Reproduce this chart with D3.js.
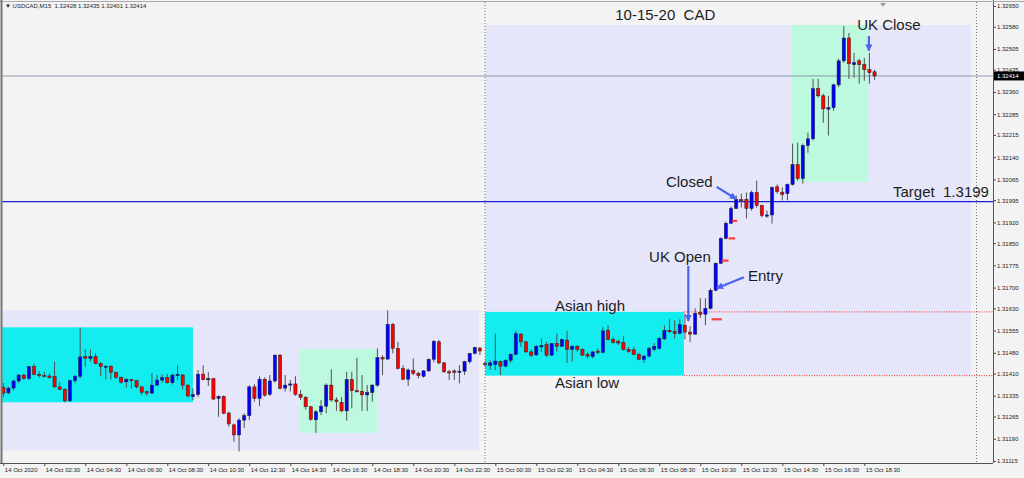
<!DOCTYPE html>
<html>
<head>
<meta charset="utf-8">
<script src="https://cdn.jsdelivr.net/npm/d3@7"></script>
<style>
  html, body { margin: 0; padding: 0; background: #f3f3f3; }
  #chart { width: 1024px; height: 478px; }
  text { font-family: "Liberation Sans", Arial, sans-serif; }
</style>
</head>
<body>
<div id="chart"></div>
<script>
// USDCAD M15, 14 Oct 00:30 .. 15 Oct 19:00
const opens = [1.31364,1.31345,1.31361,1.31385,1.31405,1.31393,1.31433,1.31407,1.31404,1.31402,
1.31400,1.31365,1.31357,1.31318,1.31386,1.31401,1.31467,1.31461,1.31467,1.31444,
1.31433,1.31435,1.31413,1.31397,1.31382,1.31390,1.31386,1.31365,1.31349,1.31344,
1.31371,1.31388,1.31397,1.31379,1.31405,1.31405,1.31371,1.31332,1.31339,1.31408,
1.31390,1.31393,1.31326,1.31332,1.31277,1.31237,1.31203,1.31253,1.31268,1.31365,
1.31326,1.31391,1.31340,1.31385,1.31472,1.31361,1.31371,1.31375,1.31340,1.31330,
1.31298,1.31254,1.31281,1.31300,1.31371,1.31321,1.31313,1.31284,1.31390,1.31352,
1.31350,1.31338,1.31346,1.31371,1.31464,1.31459,1.31576,1.31495,1.31427,1.31391,
1.31420,1.31411,1.31401,1.31419,1.31458,1.31517,1.31446,1.31416,1.31419,1.31414,
1.31418,1.31450,1.31478,1.31496,1.31444,1.31438,1.31441,1.31451,1.31435,1.31455,
1.31475,1.31543,1.31517,1.31483,1.31473,1.31502,1.31508,1.31472,1.31512,1.31502,
1.31523,1.31492,1.31502,1.31491,1.31475,1.31467,1.31486,1.31481,1.31556,1.31525,
1.31518,1.31515,1.31492,1.31490,1.31475,1.31457,1.31469,1.31492,1.31495,1.31527,
1.31556,1.31553,1.31546,1.31573,1.31550,1.31543,1.31616,1.31610,1.31630,1.31691,
1.31782,1.31866,1.31917,1.31967,1.31997,1.31998,1.31967,1.32021,1.31977,1.31941,
1.31945,1.32040,1.32022,1.32017,1.32048,1.32115,1.32068,1.32179,1.32202,1.32371,
1.32347,1.32302,1.32307,1.32384,1.32465,1.32542,1.32452,1.32465,1.32452,1.32435,
1.32428];
const highs = [1.31378,1.31365,1.31389,1.31408,1.31409,1.31436,1.31444,1.31418,1.31416,1.31410,
1.31450,1.31382,1.31360,1.31390,1.31405,1.31565,1.31492,1.31491,1.31478,1.31449,
1.31438,1.31438,1.31417,1.31400,1.31394,1.31391,1.31389,1.31368,1.31352,1.31412,
1.31405,1.31408,1.31408,1.31409,1.31438,1.31409,1.31374,1.31360,1.31422,1.31438,
1.31416,1.31395,1.31336,1.31336,1.31281,1.31241,1.31259,1.31276,1.31371,1.31374,
1.31401,1.31397,1.31405,1.31475,1.31476,1.31405,1.31388,1.31401,1.31354,1.31334,
1.31301,1.31287,1.31321,1.31377,1.31424,1.31330,1.31330,1.31416,1.31416,1.31463,
1.31405,1.31371,1.31374,1.31495,1.31472,1.31623,1.31581,1.31517,1.31438,1.31427,
1.31461,1.31416,1.31422,1.31461,1.31523,1.31523,1.31449,1.31422,1.31424,1.31438,
1.31453,1.31480,1.31500,1.31500,1.31452,1.31455,1.31545,1.31453,1.31458,1.31478,
1.31554,1.31547,1.31520,1.31491,1.31506,1.31528,1.31517,1.31513,1.31545,1.31528,
1.31554,1.31506,1.31506,1.31495,1.31483,1.31486,1.31495,1.31567,1.31573,1.31534,
1.31525,1.31536,1.31500,1.31500,1.31480,1.31472,1.31500,1.31513,1.31534,1.31573,
1.31593,1.31590,1.31593,1.31612,1.31570,1.31630,1.31664,1.31664,1.31697,1.31785,
1.31869,1.31923,1.31974,1.32011,1.32017,1.32021,1.32027,1.32061,1.31980,1.31960,
1.32041,1.32048,1.32038,1.32051,1.32186,1.32189,1.32186,1.32223,1.32404,1.32404,
1.32354,1.32347,1.32388,1.32472,1.32583,1.32559,1.32492,1.32472,1.32475,1.32492,
1.32435];
const lows = [1.31331,1.31340,1.31352,1.31378,1.31389,1.31389,1.31404,1.31396,1.31397,1.31392,
1.31362,1.31354,1.31313,1.31315,1.31377,1.31394,1.31433,1.31450,1.31441,1.31401,
1.31390,1.31390,1.31392,1.31376,1.31363,1.31360,1.31360,1.31337,1.31335,1.31342,
1.31368,1.31379,1.31376,1.31373,1.31388,1.31357,1.31331,1.31320,1.31330,1.31387,
1.31368,1.31320,1.31264,1.31273,1.31231,1.31180,1.31147,1.31226,1.31253,1.31315,
1.31300,1.31332,1.31335,1.31379,1.31357,1.31349,1.31349,1.31335,1.31321,1.31289,
1.31251,1.31210,1.31270,1.31276,1.31315,1.31284,1.31280,1.31251,1.31293,1.31348,
1.31284,1.31284,1.31315,1.31365,1.31405,1.31455,1.31478,1.31424,1.31387,1.31368,
1.31405,1.31394,1.31396,1.31416,1.31448,1.31441,1.31412,1.31388,1.31388,1.31377,
1.31405,1.31444,1.31475,1.31472,1.31432,1.31422,1.31422,1.31405,1.31431,1.31446,
1.31472,1.31500,1.31480,1.31466,1.31470,1.31483,1.31466,1.31469,1.31483,1.31500,
1.31446,1.31450,1.31483,1.31469,1.31461,1.31461,1.31475,1.31480,1.31522,1.31511,
1.31506,1.31488,1.31480,1.31472,1.31455,1.31446,1.31464,1.31486,1.31491,1.31523,
1.31547,1.31528,1.31542,1.31525,1.31516,1.31541,1.31597,1.31573,1.31626,1.31688,
1.31780,1.31863,1.31914,1.31965,1.31970,1.31933,1.31960,1.31970,1.31937,1.31936,
1.31916,1.32017,1.31994,1.31994,1.32044,1.32061,1.32051,1.32155,1.32196,1.32341,
1.32256,1.32213,1.32297,1.32377,1.32458,1.32404,1.32408,1.32388,1.32398,1.32388,
1.32401];
const closes = [1.31344,1.31361,1.31385,1.31405,1.31393,1.31433,1.31407,1.31404,1.31402,1.31397,
1.31365,1.31357,1.31318,1.31386,1.31401,1.31466,1.31462,1.31467,1.31444,1.31433,
1.31435,1.31414,1.31397,1.31381,1.31390,1.31386,1.31365,1.31347,1.31344,1.31371,
1.31388,1.31396,1.31379,1.31405,1.31407,1.31371,1.31334,1.31339,1.31408,1.31390,
1.31393,1.31324,1.31333,1.31276,1.31240,1.31203,1.31253,1.31268,1.31365,1.31326,
1.31391,1.31337,1.31385,1.31472,1.31360,1.31371,1.31375,1.31340,1.31330,1.31298,
1.31256,1.31281,1.31300,1.31371,1.31321,1.31315,1.31284,1.31390,1.31352,1.31350,
1.31338,1.31346,1.31371,1.31464,1.31459,1.31576,1.31495,1.31427,1.31391,1.31422,
1.31411,1.31403,1.31419,1.31458,1.31519,1.31446,1.31416,1.31415,1.31414,1.31418,
1.31450,1.31478,1.31498,1.31486,1.31440,1.31446,1.31452,1.31435,1.31455,1.31475,
1.31545,1.31517,1.31483,1.31472,1.31502,1.31504,1.31472,1.31511,1.31502,1.31525,
1.31491,1.31502,1.31491,1.31472,1.31469,1.31483,1.31481,1.31554,1.31525,1.31515,
1.31513,1.31491,1.31485,1.31475,1.31458,1.31469,1.31495,1.31502,1.31528,1.31556,
1.31551,1.31545,1.31575,1.31550,1.31543,1.31613,1.31610,1.31630,1.31691,1.31782,
1.31866,1.31917,1.31967,1.31997,1.31995,1.31967,1.32021,1.31977,1.31943,1.31945,
1.32038,1.32024,1.32014,1.32048,1.32115,1.32068,1.32179,1.32202,1.32371,1.32347,
1.32303,1.32307,1.32384,1.32465,1.32542,1.32455,1.32459,1.32452,1.32435,1.32425,
1.32414];

const yTicks = [1.32650,1.32580,1.32505,1.32435,1.32360,1.32285,1.32215,1.32140,1.32065,1.31995,
1.31920,1.31850,1.31775,1.31700,1.31630,1.31555,1.31480,1.31410,1.31335,1.31265,1.31190,1.31115];
const xTickIdx = [0,8,16,24,32,40,48,56,64,72,80,88,96,104,112,120,128,136,144,152,160,168];
const xTickLabels = ['14 Oct 2020','14 Oct 02:30','14 Oct 04:30','14 Oct 06:30','14 Oct 08:30','14 Oct 10:30',
'14 Oct 12:30','14 Oct 14:30','14 Oct 16:30','14 Oct 18:30','14 Oct 20:30','14 Oct 22:30',
'15 Oct 00:30','15 Oct 02:30','15 Oct 04:30','15 Oct 06:30','15 Oct 08:30','15 Oct 10:30',
'15 Oct 12:30','15 Oct 14:30','15 Oct 16:30','15 Oct 18:30'];

// boxes: [startBar, endBar, topPrice, bottomPrice, colour]
const boxStart = [-1, -1, 57.9, 94.0, 94.0, 153.8];
const boxEnd   = [92.8, 37.0, 72.9, 188.8, 132.8, 168.8];
const boxTop   = [1.31624, 1.31566, 1.31493, 1.32586, 1.31618, 1.32586];
const boxBot   = [1.31150, 1.31313, 1.31210, 1.31405, 1.31403, 1.32056];
const boxFill  = ['#e6e6fa', '#13edf0', '#bcf9df', '#e6e6fa', '#13edf0', '#bcf9df'];

const target = 1.3199;
const asianHigh = 1.31618, asianLow = 1.31403, asianEnd = 132.8;
const daySepBars = [94, 189.9];

const dashStart = [142.2, 141.5, 140.2, 138.2];
const dashEnd   = [143.2, 142.8, 141.5, 140.2];
const dashPrice = [1.31925, 1.31866, 1.31791, 1.31593];

const noteText  = ['10-15-20  CAD','UK Close','Closed','Target  1.3199','UK Open','Entry','Asian high','Asian low'];
const noteBar   = [119.4, 166.6, 129.3, 173.6, 126.0, 145.3, 107.65, 107.65];
const notePrice = [1.32620, 1.32586, 1.32056, 1.32024, 1.31803, 1.31742, 1.31638, 1.31378];

// arrows: from (bar, price) to (bar, price)
const arrowFromBar   = [168.9, 139.2, 133.66, 144.5];
const arrowFromPrice = [1.32549, 1.32040, 1.31773, 1.31735];
const arrowToBar     = [168.9, 143.0, 133.66, 139.2];
const arrowToPrice   = [1.32499, 1.31999, 1.31587, 1.31698];

const W = 1024, H = 478;
const axisX = 993, axisY = 463;

const svg = d3.select('#chart').append('svg')
  .attr('width', W).attr('height', H);

svg.append('rect').attr('width', W).attr('height', H).attr('fill', '#f3f3f3');

const x = d3.scaleLinear().domain([0, 190]).range([3.3, 977.05]);
const y = d3.scaleLinear().domain([1.31115, 1.32650]).range([461, 6]);

svg.append('clipPath').attr('id', 'plot')
  .append('rect').attr('x', 2).attr('y', 2).attr('width', axisX - 2).attr('height', axisY - 2);

const g = svg.append('g').attr('clip-path', 'url(#plot)');

// boxes
boxStart.forEach((s, i) => {
  g.append('rect')
    .attr('x', x(s)).attr('y', y(boxTop[i]))
    .attr('width', x(boxEnd[i]) - x(s))
    .attr('height', y(boxBot[i]) - y(boxTop[i]))
    .attr('fill', boxFill[i]);
});

// separators
daySepBars.forEach(b => {
  g.append('line')
    .attr('x1', x(b)).attr('x2', x(b)).attr('y1', 2).attr('y2', axisY)
    .attr('stroke', '#777').attr('stroke-width', 1).attr('stroke-dasharray', '1,2');
});

// asian range lines
[asianHigh, asianLow].forEach(p => {
  g.append('line')
    .attr('x1', x(asianEnd)).attr('x2', axisX).attr('y1', y(p)).attr('y2', y(p))
    .attr('stroke', '#ff2020').attr('stroke-width', 1).attr('stroke-dasharray', '1,1.5');
});

// current price line
const last = closes[closes.length - 1];
g.append('line')
  .attr('x1', 2).attr('x2', axisX).attr('y1', y(last)).attr('y2', y(last))
  .attr('stroke', '#8d9bab').attr('stroke-width', 1);

// target line
g.append('line')
  .attr('x1', 2).attr('x2', axisX).attr('y1', y(target)).attr('y2', y(target))
  .attr('stroke', '#1d1dd8').attr('stroke-width', 1.4);

// candles
const bw = 3.2;
opens.forEach((o, i) => {
  const c = closes[i];
  const cx = x(i);
  g.append('line')
    .attr('x1', cx).attr('x2', cx)
    .attr('y1', y(highs[i])).attr('y2', y(lows[i]))
    .attr('stroke', '#505050').attr('stroke-width', 1);
  const top = y(Math.max(o, c)), bot = y(Math.min(o, c));
  g.append('rect')
    .attr('x', cx - bw / 2).attr('y', top)
    .attr('width', bw).attr('height', Math.max(bot - top, 1.2))
    .attr('fill', c >= o ? '#0000ff' : '#ff0000')
    .attr('stroke', '#222').attr('stroke-width', 0.5);
});

// red stop dashes
dashStart.forEach((s, i) => {
  g.append('line')
    .attr('x1', x(s)).attr('x2', x(dashEnd[i]))
    .attr('y1', y(dashPrice[i])).attr('y2', y(dashPrice[i]))
    .attr('stroke', '#ff3b3b').attr('stroke-width', 2.2);
});

// arrows
const arrowCol = '#4a62f0';
svg.append('defs').append('marker')
  .attr('id', 'head').attr('viewBox', '0 0 10 10')
  .attr('refX', 9).attr('refY', 5)
  .attr('markerWidth', 3.2).attr('markerHeight', 3.2)
  .attr('orient', 'auto')
  .append('path').attr('d', 'M0,0L10,5L0,10Z').attr('fill', arrowCol);

arrowFromBar.forEach((b, i) => {
  svg.append('line')
    .attr('x1', x(b)).attr('y1', y(arrowFromPrice[i]))
    .attr('x2', x(arrowToBar[i])).attr('y2', y(arrowToPrice[i]))
    .attr('stroke', arrowCol).attr('stroke-width', 2.2)
    .attr('marker-end', 'url(#head)');
});

// notes
noteText.forEach((t, i) => {
  svg.append('text')
    .attr('x', x(noteBar[i])).attr('y', y(notePrice[i]))
    .attr('dy', '0.36em')
    .style('white-space', 'pre')
    .attr('font-size', 15).attr('fill', '#1c1c1c')
    .text(t);
});

// axes
const yAxis = d3.axisRight(y).tickValues(yTicks).tickSize(3).tickSizeOuter(0)
  .tickFormat(d3.format('.5f'));
const ya = svg.append('g').attr('transform', `translate(${axisX},0)`).call(yAxis);
ya.select('.domain').remove();
ya.selectAll('line').attr('stroke', '#444');
ya.selectAll('text').attr('font-size', 6).attr('fill', '#222').attr('x', 4)
  .attr('font-family', '"Liberation Sans", Arial, sans-serif');

const xAxis = d3.axisBottom(x).tickValues(xTickIdx).tickSize(3).tickSizeOuter(0)
  .tickFormat((d, i) => xTickLabels[i]);
const xa = svg.append('g').attr('transform', `translate(0,${axisY})`).call(xAxis);
xa.select('.domain').remove();
xa.selectAll('line').attr('stroke', '#444');
xa.selectAll('text').attr('font-size', 6).attr('fill', '#222')
  .attr('text-anchor', 'start').attr('x', 1).attr('y', 5)
  .attr('font-family', '"Liberation Sans", Arial, sans-serif');

svg.append('line').attr('x1', axisX + 0.5).attr('x2', axisX + 0.5).attr('y1', 0).attr('y2', axisY)
  .attr('stroke', '#555');
svg.append('line').attr('x1', 0).attr('x2', axisX).attr('y1', axisY + 0.5).attr('y2', axisY + 0.5)
  .attr('stroke', '#555');

// frame
svg.append('line').attr('x1', 0).attr('x2', W).attr('y1', 1.5).attr('y2', 1.5).attr('stroke', '#aaa');
svg.append('line').attr('x1', 1.5).attr('x2', 1.5).attr('y1', 0).attr('y2', axisY)
  .attr('stroke', '#777').attr('stroke-width', 2);

// last price tag
svg.append('rect').attr('x', axisX + 1).attr('y', y(last) - 4.5)
  .attr('width', W - axisX - 1).attr('height', 9).attr('fill', '#000');
svg.append('text').attr('x', axisX + 4).attr('y', y(last)).attr('dy', '0.35em')
  .attr('font-size', 6).attr('fill', '#fff').text(d3.format('.5f')(last));

// chart shift marker
const sx = x(171.65);
svg.append('path').attr('d', `M${sx - 3},3L${sx + 3},3L${sx},6.5Z`).attr('fill', '#8a97a6');

// header
const li = opens.length - 1;
svg.append('text').attr('x', 5).attr('y', 8)
  .style('white-space', 'pre').attr('font-size', 6).attr('fill', '#222')
  .text(`\u25BC USDCAD,M15  ${[opens[li], highs[li], lows[li], closes[li]].map(d3.format('.5f')).join(' ')}`);
</script>
</body>
</html>
